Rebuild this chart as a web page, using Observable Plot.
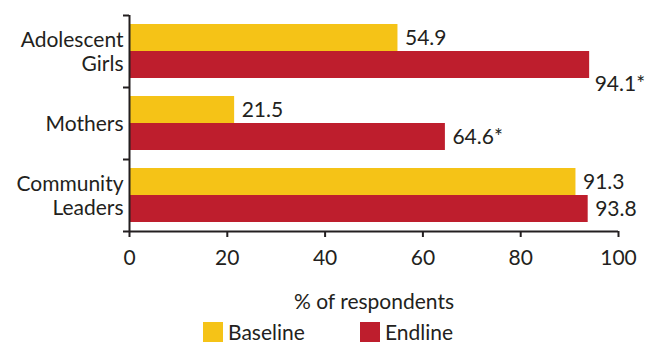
<!DOCTYPE html>
<html>
<head>
<meta charset="utf-8">
<script src="https://cdn.jsdelivr.net/npm/d3@7"></script>
<script src="https://cdn.jsdelivr.net/npm/@observablehq/plot@0.6"></script>
<style>
  html, body { margin: 0; padding: 0; background: #fff; }
  #wrap { width: 651px; height: 343px; position: relative; font-family: Lato, "Open Sans", sans-serif; color: #231f20; }
  #wrap svg { display: block; }
  .legend { position: relative; height: 27px; font-size: 21px; }
  .item { position: absolute; top: 6px; display: flex; align-items: center; height: 20px; line-height: 20px; }
  .sw { width: 20px; height: 20px; margin-right: 5px; flex: none; }
</style>
</head>
<body>
<div id="wrap"></div>
<script>
const categories = ["Adolescent Girls", "Mothers", "Community Leaders"];
const categoryLabels = ["Adolescent\nGirls", "Mothers", "Community\nLeaders"];
const seriesNames = ["Baseline", "Endline"];
const baseline = [54.9, 21.5, 91.3];
const endline = [94.1, 64.6, 93.8];
const baselineLabels = ["54.9", "21.5", "91.3"];
const endlineLabels = ["94.1*", "64.6*", "93.8"];
const xTicks = [0, 20, 40, 60, 80, 100];
const colors = ["#F5C317", "#BE1E2D"];
const ink = "#231f20";

const rows = [];
categories.forEach((c, i) => {
  rows.push({category: c, series: seriesNames[0], value: baseline[i], label: baselineLabels[i]});
  rows.push({category: c, series: seriesNames[1], value: endline[i], label: endlineLabels[i]});
});

const FACET_H = 72, BAR_H = 27;
const edge = FACET_H / 2 - BAR_H / 2;

const chart = Plot.plot({
  width: 651,
  height: 316,
  marginTop: 15,
  marginBottom: 85,
  marginLeft: 129,
  marginRight: 33,
  style: {fontFamily: "Lato, 'Open Sans', sans-serif", fontSize: "21px", color: ink, background: "#fff"},
  x: {domain: [0, 100]},
  y: {domain: seriesNames, paddingInner: 0, paddingOuter: 1 / 3, axis: null},
  fy: {domain: categories, padding: 0, axis: null},
  color: {domain: seriesNames, range: colors},
  marks: [
    Plot.barX(rows, {fy: "category", y: "series", x: "value", fill: "series", insetTop: 0, insetBottom: 0}),
    Plot.text(rows.filter(d => !(d.value > 94)), {fy: "category", y: "series", x: "value", text: "label", textAnchor: "start", dx: 7, fill: ink}),
    Plot.text(rows.filter(d => d.value > 94), {fy: "category", y: "series", x: "value", text: "label", textAnchor: "start", dx: 5, dy: 19, fill: ink}),
    Plot.ruleX([0], {stroke: ink, strokeWidth: 2}),
    Plot.ruleY(categories, {fy: d => d, y: () => seriesNames[0], x1: 0, x2: 0, insetLeft: -6, dy: -edge, stroke: ink, strokeWidth: 2}),
    Plot.ruleY([categories[categories.length - 1]], {fy: d => d, y: () => seriesNames[1], x1: 0, x2: 100, insetLeft: -6, dy: edge, stroke: ink, strokeWidth: 2}),
    Plot.text(categories, {fy: d => d, text: (d, i) => categoryLabels[i], frameAnchor: "left", textAnchor: "end", dx: -6, lineHeight: 1.15, fill: ink}),
    Plot.axisX({ticks: xTicks, tickSize: 6, tickPadding: 13, strokeWidth: 2, stroke: ink, fill: ink, label: "% of respondents", labelAnchor: "center", labelOffset: 77, labelArrow: "none"})
  ]
});

const wrap = document.getElementById("wrap");
wrap.appendChild(chart);
const legend = document.createElement("div");
legend.className = "legend";
const positions = [203, 360];
seriesNames.forEach((s, i) => {
  const it = document.createElement("div");
  it.className = "item";
  it.style.left = positions[i] + "px";
  const sw = document.createElement("div");
  sw.className = "sw";
  sw.style.background = colors[i];
  const t = document.createElement("span");
  t.textContent = s;
  it.appendChild(sw);
  it.appendChild(t);
  legend.appendChild(it);
});
wrap.appendChild(legend);
</script>
</body>
</html>
